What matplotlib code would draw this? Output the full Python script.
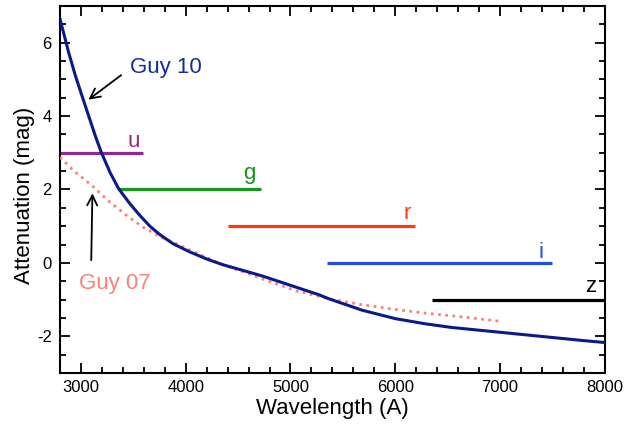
import matplotlib
matplotlib.use("Agg")
import matplotlib.pyplot as plt
from matplotlib.ticker import MultipleLocator

plt.rcParams['font.family'] = ['Liberation Sans', 'DejaVu Sans']
plt.rcParams['axes.unicode_minus'] = False

# Guy 10 attenuation curve
guy10_wl = [2800, 2882, 2946, 3009, 3072, 3136, 3193, 3280, 3360, 3468, 3563, 3658,
            3753, 3880, 4038, 4196, 4354, 4576, 4734, 5051, 5273, 5368, 5684, 6001, 6286,
            6538, 6855, 7172, 7488, 7805, 8000]
guy10_att = [6.65, 5.74, 5.11, 4.56, 4.02, 3.47, 3.02, 2.45, 2.02, 1.61, 1.29, 1.0,
             0.77, 0.52, 0.3, 0.11, -0.05, -0.23, -0.36, -0.66, -0.87, -0.98, -1.29, -1.52, -1.66,
             -1.76, -1.85, -1.94, -2.03, -2.12, -2.17]

# Guy 07 attenuation curve
guy07_wl = [2800, 2930, 3104, 3278, 3437, 3595, 3753, 3912, 4038, 4196, 4354, 4576,
            4734, 5051, 5368, 5684, 6001, 6286, 6602, 7000]
guy07_att = [2.88, 2.51, 2.11, 1.65, 1.29, 0.97, 0.72, 0.52, 0.35, 0.15, -0.05, -0.27,
             -0.44, -0.76, -0.98, -1.14, -1.27, -1.37, -1.46, -1.59]

# Filter bands
filters = ['u', 'g', 'r', 'i', 'z']
band_start = [2800, 3357, 4405, 5345, 6350]
band_end = [3590, 4720, 6185, 7500, 8000]
band_level = [3, 2, 1, 0, -1]
band_colors = ['#8e2a8e', '#16961a', '#ff3a10', '#1f4fe8', '#000000']
label_x = [3440, 4545, 6080, 7370, 7810]
label_y = [3.17, 2.28, 1.2, 0.14, -0.8]

fig = plt.figure(figsize=(6.36, 4.25), dpi=100)
ax = fig.add_axes([0.0943, 0.1224, 0.8567, 0.8636])

navy = '#0a1a8c'
salmon = '#ff7f7a'

for s, e, lv, c, nm, lx, ly in zip(band_start, band_end, band_level, band_colors,
                                   filters, label_x, label_y):
    ax.plot([s, e], [lv, lv], color=c, lw=2.3, solid_capstyle='butt', zorder=2)
    ax.text(lx, ly, nm, color=c, fontsize=16, ha='left', va='baseline')

ax.plot(guy07_wl, guy07_att, color=salmon, lw=2.0, linestyle=(0, (1, 1.6)), zorder=3)
ax.plot(guy10_wl, guy10_att, color=navy, lw=2.2, zorder=4, solid_joinstyle='round')

ax.annotate('', xy=(3050, 4.4), xytext=(3405, 5.16),
            arrowprops=dict(arrowstyle='->', color='black', lw=1.3, mutation_scale=18))
ax.text(3469, 5.32, 'Guy 10', color='#142b9c', fontsize=16, ha='left', va='center')

ax.annotate('', xy=(3110, 1.97), xytext=(3098, 0.0),
            arrowprops=dict(arrowstyle='->', color='black', lw=1.3, mutation_scale=18))
ax.text(2985, -0.57, 'Guy 07', color=salmon, fontsize=16, ha='left', va='center')

ax.set_xlim(2800, 8000)
ax.set_ylim(-3, 7)
ax.xaxis.set_major_locator(MultipleLocator(1000))
ax.xaxis.set_minor_locator(MultipleLocator(200))
ax.yaxis.set_major_locator(MultipleLocator(2))
ax.yaxis.set_minor_locator(MultipleLocator(0.5))
ax.tick_params(which='both', direction='in', top=True, right=True, width=1.3)
ax.tick_params(which='major', length=7, labelsize=12)
ax.tick_params(which='minor', length=4)
ax.tick_params(axis='x', pad=5)
ax.tick_params(axis='y', pad=6)
for sp in ax.spines.values():
    sp.set_linewidth(1.5)

ax.set_xlabel('Wavelength (A)', fontsize=16, labelpad=2)
ax.set_ylabel('Attenuation (mag)', fontsize=16)
ax.yaxis.set_label_coords(-0.045, 0.484)

fig.savefig('out.png', dpi=100)
